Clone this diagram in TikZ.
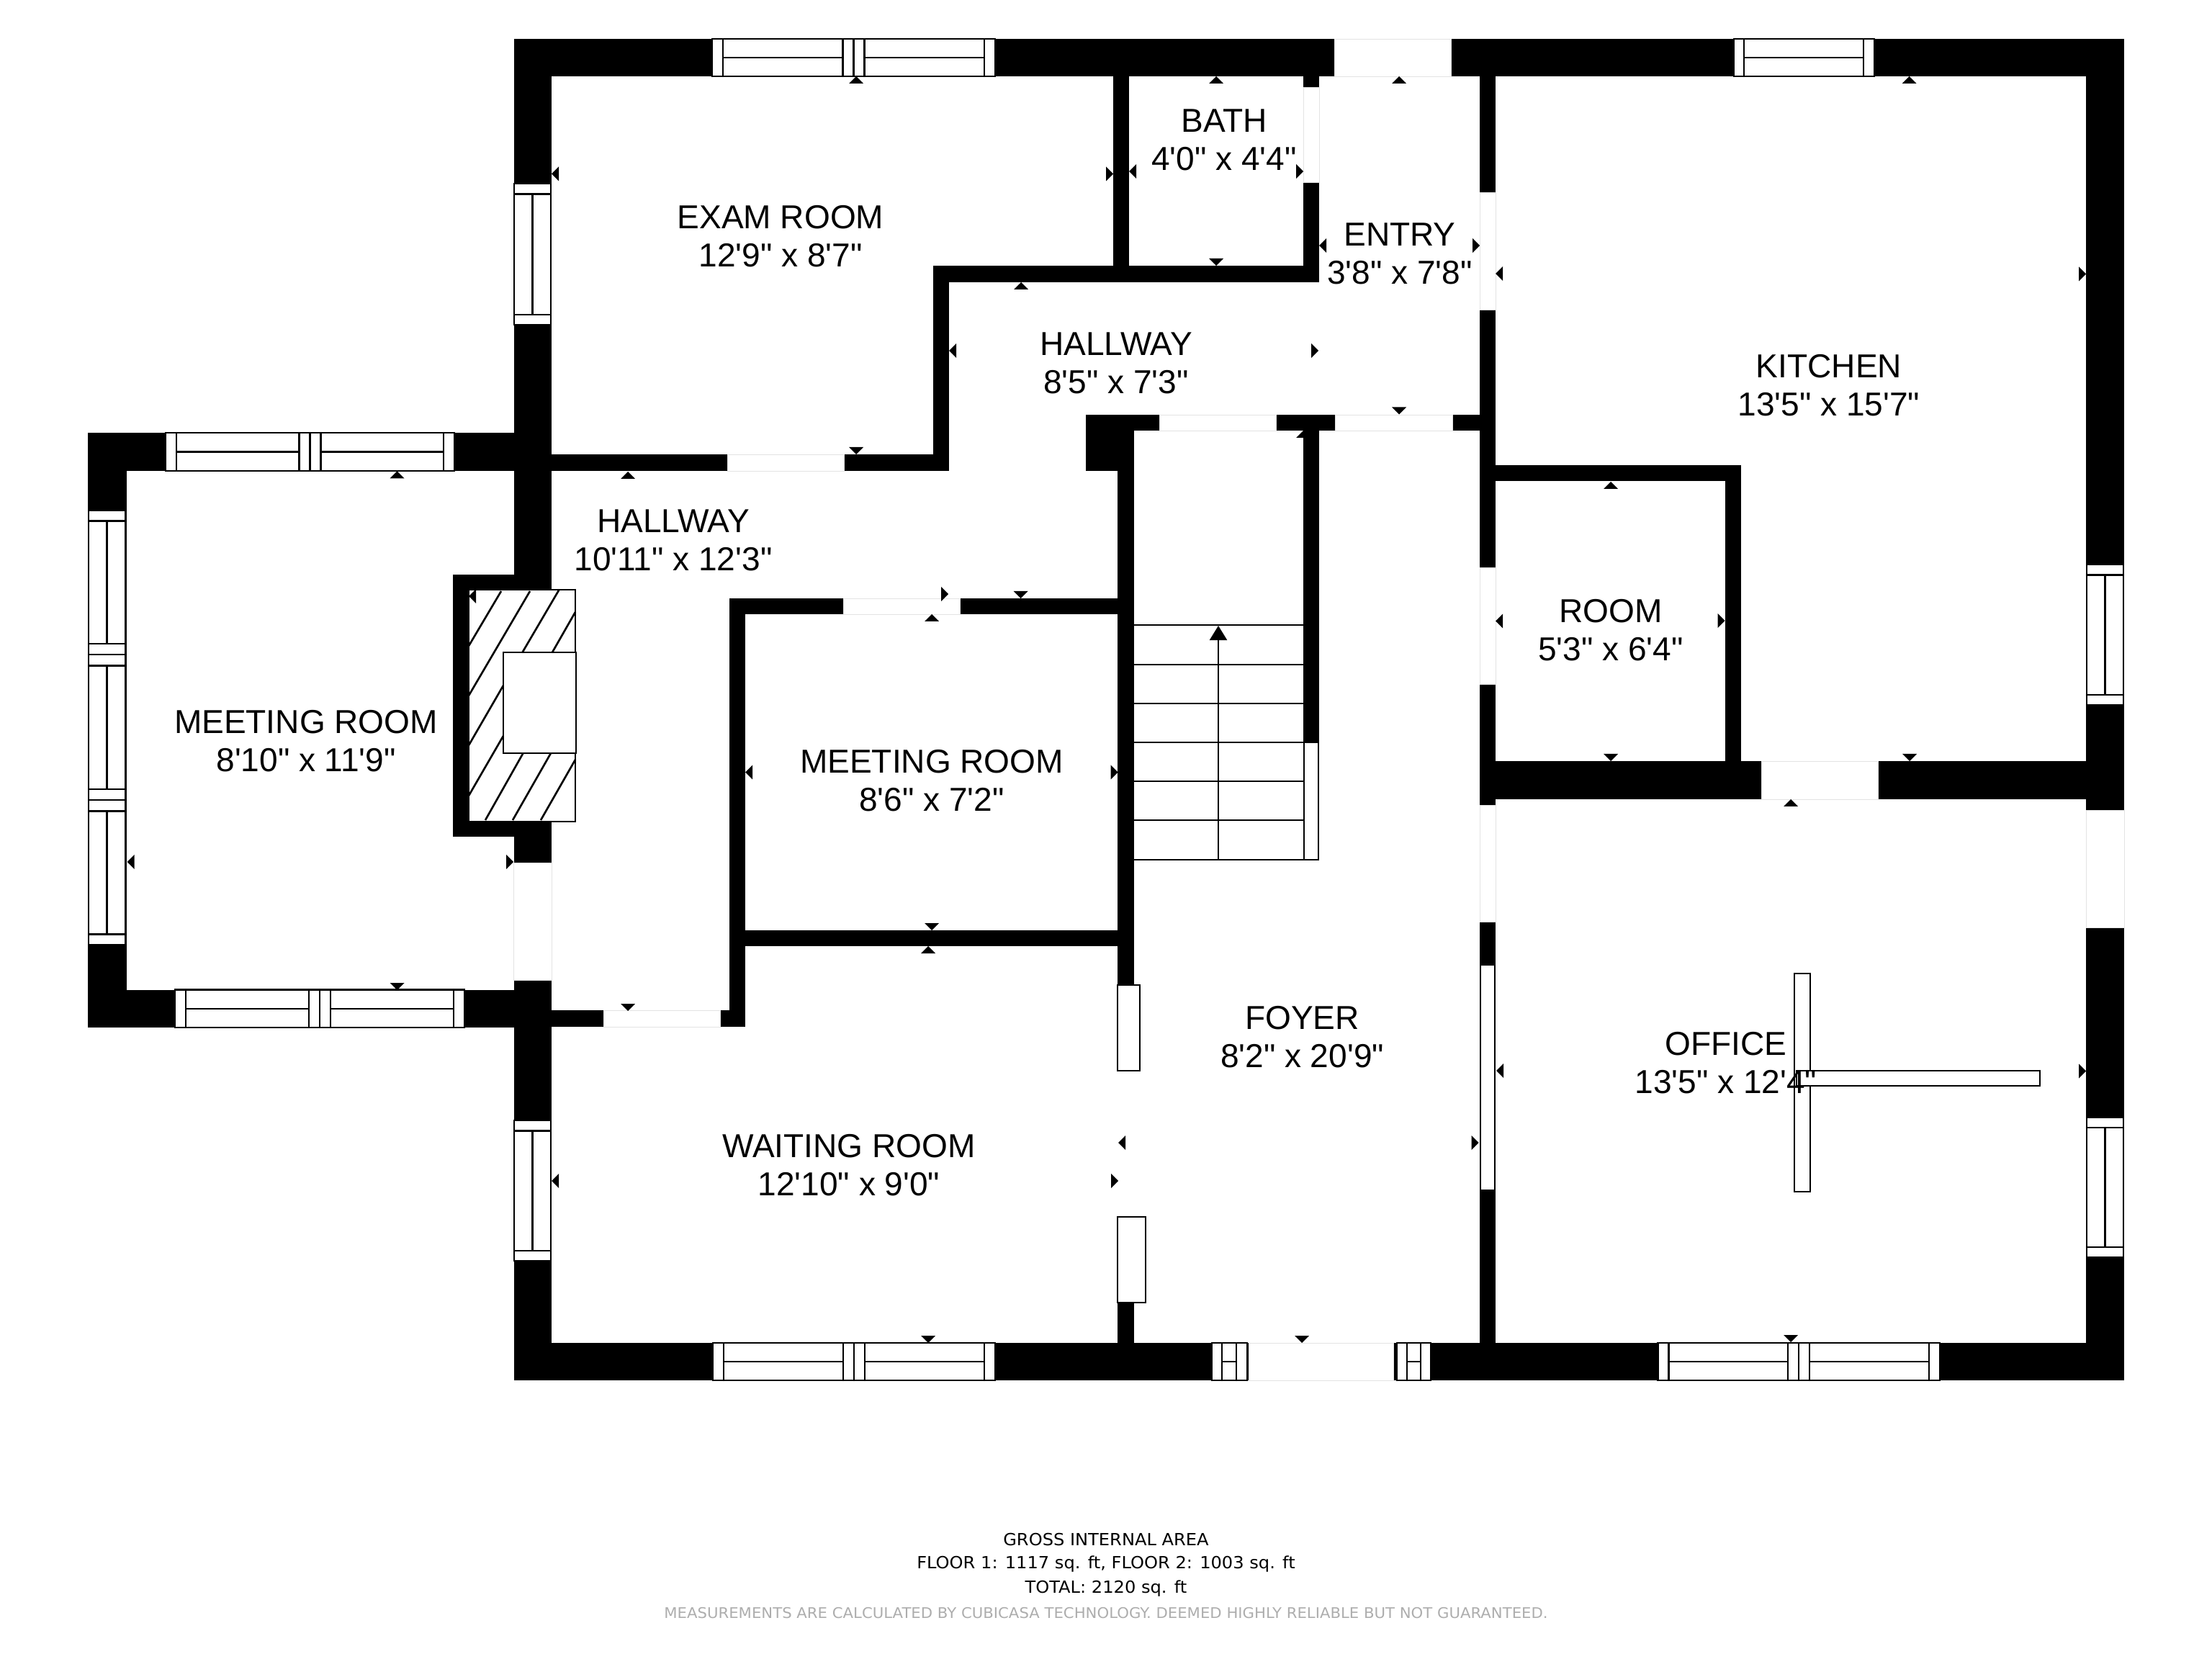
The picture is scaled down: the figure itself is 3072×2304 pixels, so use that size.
\documentclass[tikz,border=0pt]{standalone}
\usepackage{fontspec}
\newfontfamily\roomfont{Liberation Sans}
\newfontfamily\footfont[FakeStretch=1.04]{DejaVu Sans}
\usetikzlibrary{arrows.meta}
\definecolor{footGray}{gray}{0.68}
\tikzstyle{styWall}=[fill=black]
\tikzstyle{styDoor}=[fill=white,draw=black!11,line width=0.25pt]
\tikzstyle{styWin}=[fill=white,draw=black,line width=0.6pt]
\tikzstyle{styLine}=[draw=black,line width=0.6pt]
\tikzstyle{styRail}=[fill=white,draw=black,line width=0.8pt]
\tikzstyle{styStep}=[draw=black,line width=0.75pt]
\tikzstyle{styRoom}=[align=center,inner sep=0pt,font=\roomfont\fontsize{13.1}{15.1}\selectfont]
\tikzstyle{styFoot}=[inner sep=0pt,font=\footfont\fontsize{6.6}{8}\selectfont]
\tikzstyle{styNote}=[inner sep=0pt,text=footGray,font=\footfont\fontsize{5.8}{7}\selectfont]
\tikzstyle{myarrow}=[styStep,-{Triangle[width=6.8pt,length=5.7pt]}]
% dimension marks: tip at (x,y)
\newcommand{\tickU}[2]{\fill (#1,#2) -- (#1-10,#2+10) -- (#1+10,#2+10) -- cycle;}
\newcommand{\tickD}[2]{\fill (#1,#2) -- (#1-10,#2-10) -- (#1+10,#2-10) -- cycle;}
\newcommand{\tickL}[2]{\fill (#1,#2) -- (#1+10,#2-10) -- (#1+10,#2+10) -- cycle;}
\newcommand{\tickR}[2]{\fill (#1,#2) -- (#1-10,#2-10) -- (#1-10,#2+10) -- cycle;}
% windows: x1 x2 y1 y2
\newcommand{\winDbl}[4]{
  \draw[styWin] (#1,#3) rectangle (#2,#4);
  \draw[styLine] ({#1+15},#3) -- ({#1+15},#4);
  \draw[styLine] ({#2-15},#3) -- ({#2-15},#4);
  \draw[styLine] ({(#1+#2)/2-15},#3) -- ({(#1+#2)/2-15},#4);
  \draw[styLine] ({(#1+#2)/2},#3) -- ({(#1+#2)/2},#4);
  \draw[styLine] ({(#1+#2)/2+15},#3) -- ({(#1+#2)/2+15},#4);
  \draw[styLine] ({#1+15},{(#3+#4)/2}) -- ({(#1+#2)/2-15},{(#3+#4)/2});
  \draw[styLine] ({(#1+#2)/2+15},{(#3+#4)/2}) -- ({#2-15},{(#3+#4)/2});
}
\newcommand{\winV}[4]{
  \draw[styWin] (#1,#3) rectangle (#2,#4);
  \draw[styLine] (#1,{#3+14.5}) -- (#2,{#3+14.5});
  \draw[styLine] (#1,{#4-14}) -- (#2,{#4-14});
  \draw[styLine] ({(#1+#2)/2},{#3+14.5}) -- ({(#1+#2)/2},{#4-14});
}
\newcommand{\winS}[4]{
  \draw[styWin] (#1,#3) rectangle (#2,#4);
  \draw[styLine] ({#1+14},#3) -- ({#1+14},#4);
  \draw[styLine] ({#2-15},#3) -- ({#2-15},#4);
  \draw[styLine] ({#1+14},{(#3+#4)/2}) -- ({#2-15},{(#3+#4)/2});
}

\begin{document}
\begin{tikzpicture}[x=0.01cm,y=-0.01cm]
\useasboundingbox (0,0) rectangle (3072,2304);

\tickU{1810}{598}

% outer walls
\fill[styWall] (713.5,54) rectangle (2950,106);
\fill[styWall] (713.5,54) rectangle (766,1917);
\fill[styWall] (713.5,1865) rectangle (2950,1917);
\fill[styWall] (2897,54) rectangle (2950,1917);
\fill[styWall] (122,601) rectangle (713.5,654);
\fill[styWall] (122,601) rectangle (175.5,1427);
\fill[styWall] (122,1374.5) rectangle (713.5,1427);
\fill[styWall] (629,798) rectangle (713.5,1162);

% inner walls
\fill[styWall] (766,631) rectangle (1318,654);
\fill[styWall] (1296,369) rectangle (1318,654);
\fill[styWall] (1296,369) rectangle (1832,392);
\fill[styWall] (1546,106) rectangle (1568,369);
\fill[styWall] (1810,106) rectangle (1832,392);
\fill[styWall] (2055,106) rectangle (2077,1865);
\fill[styWall] (1508,576) rectangle (2077,598);
\fill[styWall] (1508,576) rectangle (1575,654);
\fill[styWall] (1810,598) rectangle (1832,1031);
\fill[styWall] (1552,654) rectangle (1575,1368);
\fill[styWall] (1552,1809) rectangle (1575,1865);
\fill[styWall] (1013,831) rectangle (1552,853);
\fill[styWall] (1013,831) rectangle (1035,1426);
\fill[styWall] (1035,1292) rectangle (1552,1314);
\fill[styWall] (766,1403) rectangle (1035,1426);
\fill[styWall] (2077,646) rectangle (2418,668);
\fill[styWall] (2396,646) rectangle (2418,1057);
\fill[styWall] (2055,1057) rectangle (2446,1110);
\fill[styWall] (2608,1057) rectangle (2897,1110);

% doors
\draw[styDoor] (1853,54) rectangle (2015,106);
\draw[styDoor] (1810,121.5) rectangle (1832,253);
\draw[styDoor] (2055,267) rectangle (2077,430);
\draw[styDoor] (2055,788) rectangle (2077,950);
\draw[styDoor] (2055,1118) rectangle (2077,1280);
\draw[styDoor] (1610,576) rectangle (1772,598);
\draw[styDoor] (1854,576) rectangle (2017,598);
\draw[styDoor] (1010,631) rectangle (1172,654);
\draw[styDoor] (1171,831) rectangle (1333,853);
\draw[styDoor] (838,1403) rectangle (1000.5,1426);
\draw[styDoor] (713.5,1198) rectangle (766,1361);
\draw[styDoor] (2446,1057) rectangle (2608,1110);
\draw[styDoor] (2897,1125) rectangle (2950,1288);
\draw[styDoor] (1734,1865) rectangle (1935,1917);

% windows
\winDbl{989}{1382}{54}{106}
\winS{2408}{2603}{54}{106}
\winDbl{230}{631}{601}{654}
\winDbl{243}{645}{1374.5}{1427}
\winDbl{990}{1382}{1865}{1917}
\winDbl{2302.5}{2694}{1865}{1917}
\winV{714}{765}{255}{451}
\winV{714}{765}{1556}{1751}
\winV{2898}{2949}{784}{979}
\winV{2898}{2949}{1551.5}{1746}
\draw[styWin] (123,709) rectangle (174,1312);
\draw[styLine] (123,723.5) -- (174,723.5);
\draw[styLine] (123,894) -- (174,894);
\draw[styLine] (123,909) -- (174,909);
\draw[styLine] (123,924.5) -- (174,924.5);
\draw[styLine] (123,1096) -- (174,1096);
\draw[styLine] (123,1111) -- (174,1111);
\draw[styLine] (123,1126.5) -- (174,1126.5);
\draw[styLine] (123,1297.5) -- (174,1297.5);
\draw[styLine] (148.5,723.5) -- (148.5,894);
\draw[styLine] (148.5,924.5) -- (148.5,1096);
\draw[styLine] (148.5,1126.5) -- (148.5,1297.5);
\draw[styWin] (1683,1865) rectangle (1732,1917);
\draw[styLine] (1697,1865) -- (1697,1917);
\draw[styLine] (1717,1865) -- (1717,1917);
\draw[styLine] (1697,1891) -- (1717,1891);
\draw[styWin] (1940,1865) rectangle (1987,1917);
\draw[styLine] (1954,1865) -- (1954,1917);
\draw[styLine] (1973,1865) -- (1973,1917);
\draw[styLine] (1954,1891) -- (1973,1891);

% door leaves and closet rails
\draw[styRail] (1552,1368) rectangle (1583,1487);
\draw[styRail] (1552,1690) rectangle (1591,1809);
\draw[styRail] (2056,1340) rectangle (2076,1653);
\draw[styRail] (2492,1352) rectangle (2514,1655);
\draw[styRail] (2495,1487) rectangle (2833,1508);

% chimney
\draw[styRail,fill=white] (651,819) rectangle (799,1141);
\draw[styStep] (651,897) -- (696,821);
\draw[styStep] (651,966) -- (736,821);
\draw[styStep] (725.5,906) -- (776.5,819);
\draw[styStep] (767,906) -- (799,850);
\draw[styStep] (651,1035) -- (699,952);
\draw[styStep] (651,1105) -- (699,1022);
\draw[styStep] (674,1139) -- (726.5,1046);
\draw[styStep] (712,1139) -- (765,1046);
\draw[styStep] (751,1139) -- (799,1055);
\draw[styRail] (699,906) rectangle (800,1046);

% stairs
\draw[styRail] (1811,1031) rectangle (1831,1194);
\draw[styStep] (1575,868) -- (1810,868);
\draw[styStep] (1575,923) -- (1810,923);
\draw[styStep] (1575,977) -- (1810,977);
\draw[styStep] (1575,1031) -- (1810,1031);
\draw[styStep] (1575,1085) -- (1810,1085);
\draw[styStep] (1575,1139) -- (1810,1139);
\draw[styStep] (1575,1194) -- (1831,1194);
\coordinate (stairFoot) at (1692,1194);
\coordinate (stairHead) at (1692,869);
\draw[myarrow] (stairFoot) -- (stairHead);

% dimension marks
\tickU{1189}{106} \tickU{1689}{106} \tickU{1943}{106} \tickU{2651.5}{106}
\tickU{551.5}{654.5} \tickU{872}{655} \tickU{1418}{392} \tickU{2237}{669}
\tickU{1294}{853} \tickU{1289}{1314} \tickU{2487}{1110}
\tickD{1689}{369} \tickD{1189}{631} \tickD{1943}{575.5} \tickD{872}{1404}
\tickD{551.5}{1375} \tickD{1417.5}{831} \tickD{1294}{1292} \tickD{2237}{1057}
\tickD{2652}{1057} \tickD{1289}{1865} \tickD{1808}{1865} \tickD{2487}{1864}
\tickL{766}{241.5} \tickL{1568}{238} \tickL{1832}{341} \tickL{2077}{380}
\tickL{1318}{487} \tickL{2077}{862.5} \tickL{176.5}{1197} \tickL{1035}{1072.5}
\tickL{766}{1640} \tickL{1553}{1587} \tickL{2078}{1487} \tickL{651}{828}
\tickR{1546}{241.5} \tickR{1810}{238} \tickR{2055}{341} \tickR{1831}{487}
\tickR{2897}{380.5} \tickR{2395.5}{862} \tickR{1317}{825} \tickR{1552.5}{1072.5}
\tickR{713}{1197} \tickR{1553}{1640} \tickR{2053.5}{1587} \tickR{2897}{1487.5}

% room labels
\node[styRoom] (labMeetA) at (425,1029) {MEETING ROOM\\8'10" x 11'9"};
\node[styRoom] (labExam) at (1084,328) {EXAM ROOM\\12'9" x 8'7"};
\node[styRoom] (labBath) at (1700,194) {BATH\\4'0" x 4'4"};
\node[styRoom] (labEntry) at (1944,352) {ENTRY\\3'8" x 7'8"};
\node[styRoom] (labHallA) at (1550,504) {HALLWAY\\8'5" x 7'3"};
\node[styRoom] (labHallB) at (935,750) {HALLWAY\\10'11" x 12'3"};
\node[styRoom] (labMeetB) at (1294,1084) {MEETING ROOM\\8'6" x 7'2"};
\node[styRoom] (labKitchen) at (2540,535) {KITCHEN\\13'5" x 15'7"};
\node[styRoom] (labRoom) at (2237,875) {ROOM\\5'3" x 6'4"};
\node[styRoom] (labFoyer) at (1808.5,1440) {FOYER\\8'2" x 20'9"};
\node[styRoom] (labOffice) at (2397,1476) {OFFICE\\13'5" x 12'4"};
\node[styRoom] (labWait) at (1179,1618) {WAITING ROOM\\12'10" x 9'0"};

% footer
\node[styFoot] (footA) at (1536,2138) {GROSS INTERNAL AREA};
\node[styFoot] (footB) at (1536,2172) {FLOOR 1: 1117 sq. ft, FLOOR 2: 1003 sq. ft};
\node[styFoot] (footC) at (1536,2206) {TOTAL: 2120 sq. ft};
\node[styNote] (footD) at (1536,2240) {MEASUREMENTS ARE CALCULATED BY CUBICASA TECHNOLOGY. DEEMED HIGHLY RELIABLE BUT NOT GUARANTEED.};

\end{tikzpicture}
\end{document}
